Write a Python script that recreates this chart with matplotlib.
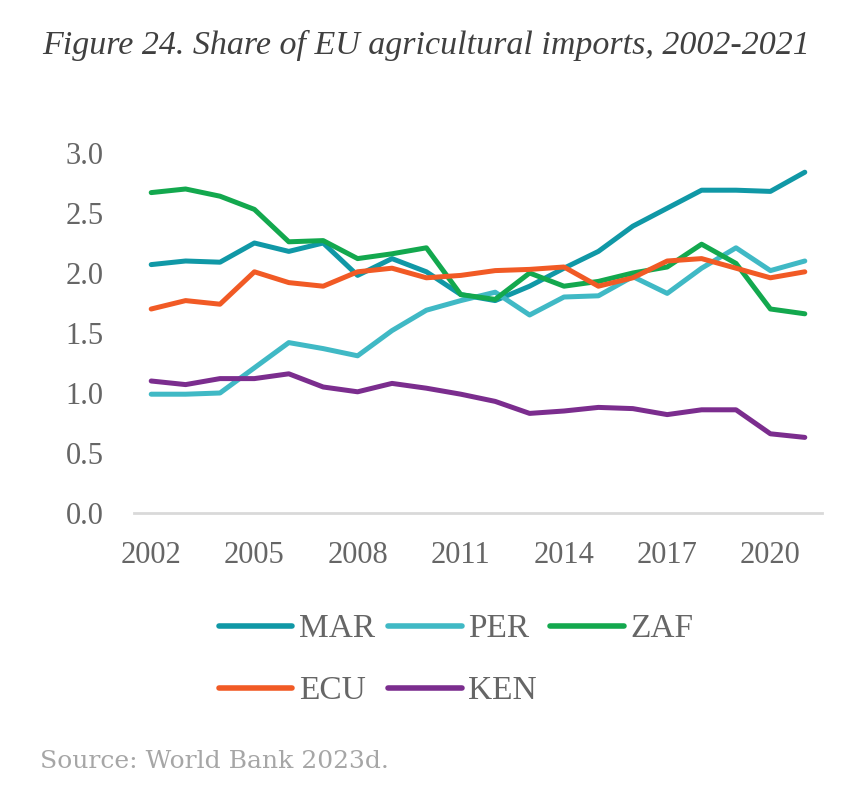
import matplotlib
matplotlib.use("Agg")
import matplotlib.pyplot as plt

# Share of EU agricultural imports (%)
years = list(range(2002, 2022))
mar = [2.07, 2.10, 2.09, 2.25, 2.18, 2.25, 1.98, 2.12, 2.01, 1.82,
       1.77, 1.89, 2.04, 2.18, 2.39, 2.54, 2.69, 2.69, 2.68, 2.84]
per = [0.99, 0.99, 1.00, 1.21, 1.42, 1.37, 1.31, 1.52, 1.69, 1.77,
       1.84, 1.65, 1.80, 1.81, 1.97, 1.83, 2.04, 2.21, 2.02, 2.10]
zaf = [2.67, 2.70, 2.64, 2.53, 2.26, 2.27, 2.12, 2.16, 2.21, 1.82,
       1.78, 2.00, 1.89, 1.93, 2.00, 2.05, 2.24, 2.08, 1.70, 1.66]
ecu = [1.70, 1.77, 1.74, 2.01, 1.92, 1.89, 2.01, 2.04, 1.96, 1.98,
       2.02, 2.03, 2.05, 1.89, 1.96, 2.10, 2.12, 2.04, 1.96, 2.01]
ken = [1.10, 1.07, 1.12, 1.12, 1.16, 1.05, 1.01, 1.08, 1.04, 0.99,
       0.93, 0.83, 0.85, 0.88, 0.87, 0.82, 0.86, 0.86, 0.66, 0.63]

xticks = [2002, 2005, 2008, 2011, 2014, 2017, 2020]
yticks = [0.0, 0.5, 1.0, 1.5, 2.0, 2.5, 3.0]

serif = "Liberation Serif"
grey = "#666666"

fig = plt.figure(figsize=(8.44, 8.01), dpi=100)
ax = fig.add_axes([134 / 844, 1 - 513 / 801, (822 - 134) / 844, 360 / 801])

# draw order so that the lines overlap like the original
series = [("MAR", mar, "#1098a6"), ("PER", per, "#40b9c5"),
          ("ZAF", zaf, "#13a84e"), ("ECU", ecu, "#f15a25"),
          ("KEN", ken, "#7b2d8e")]
handles = {}
for name, vals, col in series:
    ln, = ax.plot(years, vals, color=col, lw=3.6, solid_capstyle="round",
                  solid_joinstyle="round", label=name)
    handles[name] = ln

ax.set_xlim(2001.5, 2021.5)
ax.set_ylim(0, 3.0)
ax.set_xticks(xticks)
ax.set_yticks(yticks)
ax.set_yticklabels([f"{v:.1f}" for v in yticks])
ax.tick_params(length=0, labelsize=22, labelcolor=grey)
ax.tick_params(axis="x", pad=20)
ax.tick_params(axis="y", pad=22)
for lab in ax.get_xticklabels() + ax.get_yticklabels():
    lab.set_fontfamily(serif)

for s in ["top", "right", "left"]:
    ax.spines[s].set_visible(False)
ax.spines["bottom"].set_color("#d9d9d9")
ax.spines["bottom"].set_linewidth(2)

order = ["MAR", "ECU", "PER", "KEN", "ZAF"]
leg = fig.legend([handles[k] for k in order], order, ncol=3, loc="center",
                 bbox_to_anchor=(456 / 844, 1 - 660 / 801), frameon=False,
                 prop={"family": [serif], "size": 24}, handlelength=2.2,
                 handletextpad=0.2, columnspacing=0.4, labelspacing=0.95)
for t in leg.get_texts():
    t.set_color(grey)
for h in leg.legend_handles:
    h.set_linewidth(4)

fig.text(426 / 844, 1 - 45 / 801,
         "Figure 24. Share of EU agricultural imports, 2002-2021",
         ha="center", va="center", fontsize=24.5, style="italic",
         family=serif, color="#404040")
fig.text(40 / 844, 1 - 762 / 801, "Source: World Bank 2023d.",
         ha="left", va="center", fontsize=18, family="DejaVu Serif",
         color="#a6a6a6")

fig.savefig("out.png", dpi=100)
